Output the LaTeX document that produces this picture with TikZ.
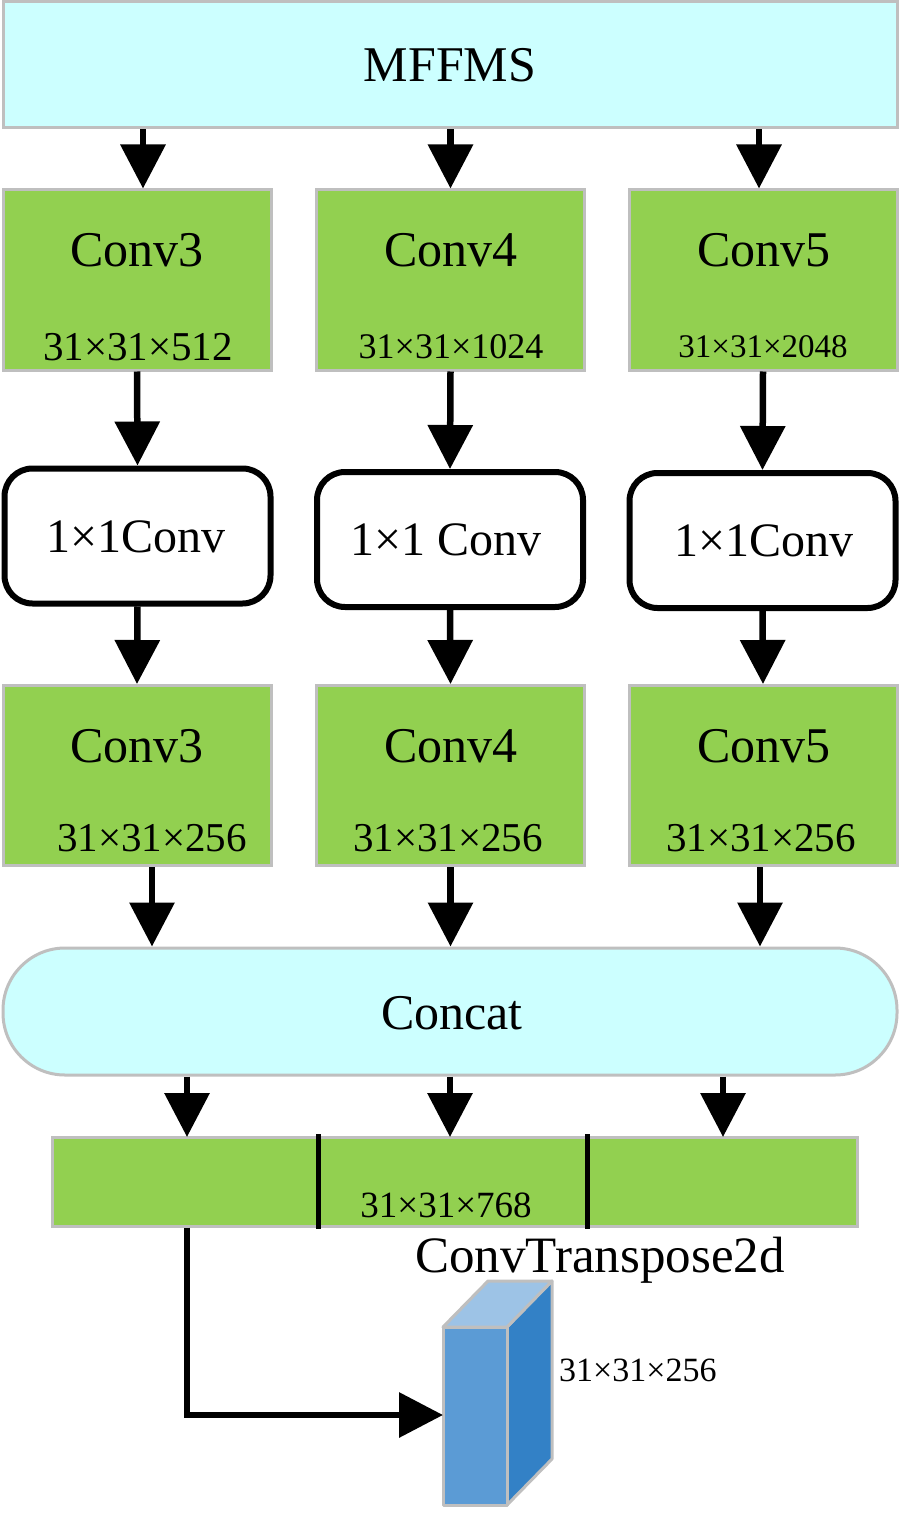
\documentclass[tikz,border=0pt]{standalone}
\usepackage{fontspec}
\setmainfont{Liberation Serif}
\usetikzlibrary{arrows.meta}
\definecolor{cyanfill}{HTML}{CCFFFF}
\definecolor{greenfill}{HTML}{92D050}
\definecolor{grayline}{HTML}{BFBFBF}
\definecolor{cubefront}{HTML}{5B9BD5}
\definecolor{cubeside}{HTML}{3381C6}
\definecolor{cubetop}{HTML}{9DC3E6}
\begin{document}
\begin{tikzpicture}[x=1pt,y=-1pt,
  arr/.style={line width=6.5pt,-{Triangle[width=44pt,length=44pt]}},
  cyanbox/.style={draw=grayline,line width=3pt,fill=cyanfill,inner sep=0pt},
  greenbox/.style={draw=grayline,line width=3pt,fill=greenfill,minimum width=268pt,minimum height=180pt,inner sep=0pt},
  convbox/.style={draw=black,line width=6pt,fill=white,rounded corners=28pt,minimum width=266pt,minimum height=135pt,inner sep=0pt},
  bigtxt/.style={font=\fontsize{50}{60}\selectfont,inner sep=0pt},
  midtxt/.style={font=\fontsize{48}{56}\selectfont,inner sep=0pt},
  dimtxt/.style={font=\fontsize{#1}{#1}\selectfont,inner sep=0pt}
]
\useasboundingbox (0,0) rectangle (900,1522);

% top
\node[cyanbox,minimum width=894pt,minimum height=126pt] (mffms) at (450,65) {};
\node[font=\fontsize{50}{60}\selectfont,inner sep=0pt] (mffmst) at (450,65) {MFFMS};

% row 1
\node[greenbox] (a1) at (137,280) {};
\node[greenbox] (b1) at (450.5,280) {};
\node[greenbox] (c1) at (763,280) {};
\node[bigtxt] (a1t) at (137,250) {Conv3};
\node[bigtxt] (b1t) at (451,250) {Conv4};
\node[bigtxt] (c1t) at (764,250) {Conv5};
\node[dimtxt=41] (a1d) at (138,347) {31×31×512};
\node[dimtxt=36] (b1d) at (451,347) {31×31×1024};
\node[dimtxt=33] (c1d) at (763,347) {31×31×2048};

\draw[arr] ([xshift=6pt]a1.north |- mffms.south) -- ([xshift=6pt]a1.north);
\draw[arr] (b1.north |- mffms.south) -- (b1.north);
\draw[arr] ([xshift=-4pt]c1.north |- mffms.south) -- ([xshift=-4pt]c1.north);

% row 2
\node[convbox] (a2) at (137.5,536) {};
\node[convbox] (b2) at (450,539.5) {};
\node[convbox] (c2) at (762.5,540.5) {};
\node[midtxt] (a2t) at (136,537) {1×1Conv};
\node[midtxt] (b2t) at (446,540) {1×1 Conv};
\node[midtxt] (c2t) at (764,541) {1×1Conv};

\draw[arr] (a1.south) -- (a2.north);
\draw[arr] (b1.south) -- (b2.north);
\draw[arr] (c1.south) -- (c2.north);

% row 3
\node[greenbox] (a3) at (137,775.5) {};
\node[greenbox] (b3) at (450.5,775.5) {};
\node[greenbox] (c3) at (763,775.5) {};
\node[bigtxt] (a3t) at (137,746) {Conv3};
\node[bigtxt] (b3t) at (451,746) {Conv4};
\node[bigtxt] (c3t) at (764,746) {Conv5};
\node[dimtxt=41] (a3d) at (152,838) {31×31×256};
\node[dimtxt=41] (b3d) at (448,838) {31×31×256};
\node[dimtxt=41] (c3d) at (761,838) {31×31×256};

\draw[arr] (a2.south) -- (a3.north);
\draw[arr] (b2.south) -- (b3.north);
\draw[arr] (c2.south) -- (c3.north);

% concat
\node[cyanbox,rounded corners=62pt,minimum width=894pt,minimum height=127pt] (cat) at (450,1011.5) {};
\node[bigtxt] (catt) at (452,1013) {Concat};

\draw[arr] ([xshift=15pt]a3.south) -- ([xshift=15pt]a3.south |- cat.north);
\draw[arr] (b3.south) -- (b3.south |- cat.north);
\draw[arr] ([xshift=-3pt]c3.south) -- ([xshift=-3pt]c3.south |- cat.north);

% bar
\node[draw=grayline,line width=3pt,fill=greenfill,minimum width=805pt,minimum height=89pt,inner sep=0pt] (bar) at (454.5,1181.5) {};
\coordinate (s1) at (187,1137);
\coordinate (s2) at (450,1137);
\coordinate (s3) at (723,1137);
\draw[line width=5pt] (318,1134) -- (318,1229);
\draw[line width=5pt] (587,1134) -- (587,1229);
\node[dimtxt=37] (bard) at (446,1205) {31×31×768};

\draw[arr] (s1 |- cat.south) -- (s1);
\draw[arr] (s2 |- cat.south) -- (s2);
\draw[arr] (s3 |- cat.south) -- (s3);

% ConvTranspose2d label
\node[font=\fontsize{51}{60}\selectfont,inner sep=0pt,anchor=base] (ctl) at (600,1272) {ConvTranspose2d};

% cube
\coordinate (fTL) at (443,1327);
\coordinate (fTR) at (507,1327);
\coordinate (fBL) at (443,1505);
\coordinate (fBR) at (507,1505);
\coordinate (bTL) at (488,1281);
\coordinate (bTR) at (552,1281);
\coordinate (bBR) at (552,1459);
\begin{scope}[draw=grayline,line width=3pt,line join=round]
\filldraw[fill=cubeside] (fTR) -- (bTR) -- (bBR) -- (fBR) -- cycle;
\filldraw[fill=cubetop] (fTL) -- (bTL) -- (bTR) -- (fTR) -- cycle;
\filldraw[fill=cubefront] (fTL) -- (fTR) -- (fBR) -- (fBL) -- cycle;
\end{scope}
\coordinate (cubein) at (443,1415);
\node[dimtxt=34,anchor=west] (cubed) at (559,1370) {31×31×256};

\draw[arr] (s1 |- bar.south) |- (cubein);
\end{tikzpicture}
\end{document}
